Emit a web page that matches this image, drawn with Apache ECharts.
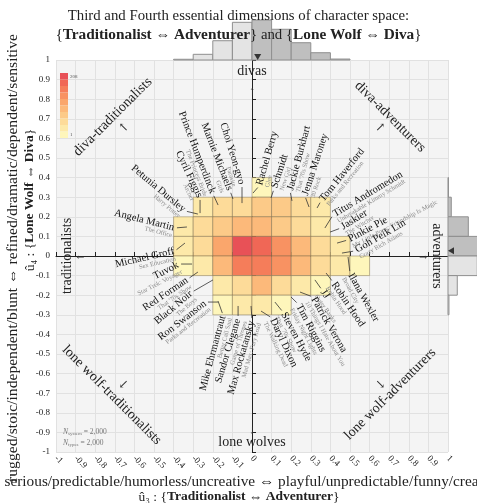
<!DOCTYPE html>
<html>
<head>
<meta charset="UTF-8">
<title>character space</title>
<script src="https://cdn.jsdelivr.net/npm/echarts@6/dist/echarts.min.js"></script>
<style>
html, body { margin: 0; padding: 0; background: #fff; }
#chart { width: 477px; height: 503px; }
</style>
</head>
<body>
<div id="chart"></div>
<script>
// heatmap: 0.1 x 0.1 bins, one row per u4 bin (lower edge), counts left to right
var rowY = [0.3, 0.2, 0.1, 0, -0.1, -0.2, -0.3];
var rowStartX = [0, -0.3, -0.4, -0.4, -0.4, -0.2, -0.2];
var rowCounts = [
    [1],
    [2, 3, 4, 5, 5, 3, 2],
    [2, 4, 8, 12, 12, 7, 4, 2],
    [2, 4, 20, 208, 120, 35, 10, 4, 2],
    [1, 2, 10, 60, 55, 35, 10, 4, 2, 1],
    [2, 4, 9, 4, 2, 1],
    [1, 2, 2, 1]
];
var maxCount = 208;
var binW = 0.1;
var levelColors = ['#fef6bb', '#fde9a9', '#fddb99', '#fcca88', '#fcb97a',
                   '#faa66c', '#f89262', '#f57d5a', '#f06756', '#e85157'];

// marginal histograms
var topBinX = [-0.4, -0.3, -0.2, -0.1, 0, 0.1, 0.2, 0.3, 0.4];
var topCounts = [9, 71, 241, 471, 500, 384, 216, 91, 12];
var rightBinY = [0.3, 0.2, 0.1, 0, -0.1, -0.2, -0.3];
var rightCounts = [6, 41, 254, 500, 366, 116, 12];
var meanX = 0.029, meanY = 0.027;

// character annotations
var charNames = ['Petunia Dursley', 'Cyril Figgis', 'Prince Humperdinck', 'Marnie Michaels', 'Choi Yeon-gyo',
    'Angela Martin', 'Rachel Berry', 'Schmidt', 'Jackie Burkhart', 'Jenna Maroney',
    'Tom Haverford', 'Titus Andromedon', 'Jaskier', 'Pinkie Pie', 'Goh Peik Lin',
    'Ilana Wexler', 'Robin Hood', 'JJ', 'Patrick Verona', 'Tim Riggins',
    'Steven Hyde', 'Daryl Dixon', 'Mike Ehrmantraut', 'Sandor Clegane', 'Max Rockatansky',
    'Michael Groff', 'Tuvok', 'Red Forman', 'Black Noir', 'Ron Swanson'];
var charShows = ['Harry Potter', 'Archer', 'The Princess Bride', 'Girls', 'Parasite',
    'The Office', 'Glee', 'New Girl', "That '70s Show", '30 Rock',
    'Parks and Recreation', 'Unbreakable Kimmy Schmidt', 'The Witcher', 'My Little Pony: Friendship Is Magic', 'Crazy Rich Asians',
    'Broad City', 'Robin Hood', 'Outer Banks', '10 Things I Hate About You', 'Friday Night Lights',
    "That '70s Show", 'The Walking Dead', 'Better Call Saul', 'Game of Thrones', 'Mad Max: Fury Road',
    'Sex Education', 'Star Trek: Voyager', "That '70s Show", 'The Boys', 'Parks and Recreation'];
var charLabelX = [-0.342, -0.265, -0.199, -0.112, -0.051, -0.393, 0.036, 0.112, 0.194, 0.270,
    0.352, 0.413, 0.454, 0.490, 0.526, 0.500, 0.413, 0.357, 0.311, 0.235,
    0.158, 0.102, -0.148, -0.071, 0.0, -0.393, -0.372, -0.327, -0.306, -0.235];
var charLabelY = [0.230, 0.296, 0.316, 0.332, 0.362, 0.143, 0.357, 0.342, 0.332, 0.306,
    0.281, 0.209, 0.143, 0.082, 0.026, -0.087, -0.133, -0.173, -0.209, -0.245,
    -0.286, -0.316, -0.301, -0.316, -0.327, 0.026, -0.041, -0.117, -0.184, -0.235];
var charPointX = [-0.276, -0.265, -0.173, -0.097, -0.051, -0.332, 0.005, 0.097, 0.204, 0.291,
    0.332, 0.372, 0.398, 0.434, 0.459, 0.490, 0.378, 0.321, 0.245, 0.199,
    0.117, 0.046, -0.173, -0.071, -0.005, -0.342, -0.306, -0.276, -0.199, -0.173];
var charPointY = [0.214, 0.219, 0.260, 0.291, 0.270, 0.148, 0.321, 0.296, 0.281, 0.250,
    0.245, 0.143, 0.122, 0.066, 0.015, -0.005, -0.087, -0.122, -0.184, -0.209,
    -0.235, -0.281, -0.230, -0.255, -0.255, 0.066, -0.041, -0.082, -0.122, -0.235];
var charRotate = [-40, -65, -69, -69, -73, -14, 74, 72, 75, 72,
    51, 31, 32, 28, 30, -61, -56, -55, -60, -62,
    -62, -65, 75, 73, 74, 13, 27, 34, 40, 38];
var charAlign = ['right', 'right', 'right', 'right', 'right', 'right', 'left', 'left', 'left', 'left',
    'left', 'left', 'left', 'left', 'left', 'left', 'left', 'left', 'left', 'left',
    'left', 'left', 'right', 'right', 'right', 'right', 'right', 'right', 'right', 'right'];

// region names round the plot
var regionText = ['divas', 'diva-adventurers', 'adventurers', 'lone wolf-adventurers',
    'lone wolves', 'lone wolf-traditionalists', 'traditionalists', 'diva-traditionalists'];
var regionX = [0, 0.705, 0.94, 0.705, 0, -0.715, -0.94, -0.71];
var regionY = [0.94, 0.71, 0, -0.705, -0.95, -0.71, 0, 0.71];
var regionRotate = [0, -45, -90, 45, 0, -45, 90, 45];
var arrowGlyph = ['↑', '↗', '→', '↘', '↓', '↙', '←', '↖'];
var arrowX = [0, 0.655, 0.875, 0.655, 0, -0.655, -0.875, -0.655];
var arrowY = [0.835, 0.655, 0, -0.655, -0.89, -0.655, 0, 0.655];

var serif = "'Liberation Serif', 'DejaVu Serif', serif";

var cellData = [];
rowY.forEach(function (y, r) {
    rowCounts[r].forEach(function (c, i) {
        var x = +(rowStartX[r] + i * binW).toFixed(2);
        cellData.push([x, y, c, Math.log10(c)]);
    });
});

var logMax = Math.log10(maxCount);
var pieces = levelColors.map(function (col, k) {
    var p = {gte: logMax * k / 10, color: col};
    if (k < 9) { p.lt = logMax * (k + 1) / 10; } else { p.lte = logMax + 1e-9; }
    return p;
});

var chart = echarts.init(document.getElementById('chart'));

var option = {
    animation: false,
    backgroundColor: '#fff',
    title: {
        left: 'center',
        top: 2,
        text: 'Third and Fourth essential dimensions of character space:\n{{b|Traditionalist} ⇔ {b|Adventurer}} and {{b|Lone Wolf} ⇔ {b|Diva}}',
        textStyle: {
            fontFamily: serif, fontSize: 14.8, fontWeight: 'normal', color: '#222', lineHeight: 19,
            rich: {b: {fontFamily: serif, fontSize: 15.3, fontWeight: 'bold', color: '#222'}}
        }
    },
    grid: [
        {left: 56, top: 60, width: 392, height: 392, show: true, backgroundColor: '#f4f4f4',
         borderWidth: 0, containLabel: false, outerBoundsMode: 'none'},
        {left: 56, top: 20, width: 392, height: 40, containLabel: false, outerBoundsMode: 'none'},
        {left: 448, top: 60, width: 40, height: 392, containLabel: false, outerBoundsMode: 'none'}
    ],
    xAxis: [
        {
            gridIndex: 0, type: 'value', min: -1, max: 1, interval: 0.1,
            axisLine: {lineStyle: {color: '#222', width: 1}},
            axisTick: {inside: true, length: 4, lineStyle: {color: '#222'}},
            axisLabel: {rotate: -45, fontSize: 9, fontFamily: serif, color: '#222', margin: 5,
                formatter: function (v) { return String(+v.toFixed(1)); }},
            splitLine: {lineStyle: {color: '#e1e1e1', width: 1}}
        },
        {gridIndex: 1, type: 'value', min: -1, max: 1, show: false},
        {gridIndex: 2, type: 'value', min: 0, max: 500, show: false}
    ],
    yAxis: [
        {
            gridIndex: 0, type: 'value', min: -1, max: 1, interval: 0.1,
            axisLine: {lineStyle: {color: '#222', width: 1}},
            axisTick: {inside: true, length: 4, lineStyle: {color: '#222'}},
            axisLabel: {fontSize: 9, fontFamily: serif, color: '#222', margin: 6,
                formatter: function (v) { return String(+v.toFixed(1)); }},
            splitLine: {lineStyle: {color: '#e1e1e1', width: 1}}
        },
        {gridIndex: 1, type: 'value', min: 0, max: 500, show: false},
        {gridIndex: 2, type: 'value', min: -1, max: 1, show: false}
    ],
    visualMap: {
        type: 'piecewise',
        seriesIndex: 0,
        dimension: 3,
        pieces: pieces,
        orient: 'vertical',
        left: 60,
        top: 73,
        padding: 0,
        itemWidth: 8,
        itemHeight: 6.5,
        itemGap: 0,
        itemSymbol: 'rect',
        textGap: 2,
        selectedMode: false,
        hoverLink: false,
        textStyle: {fontSize: 5, fontFamily: serif, color: '#555'},
        formatter: function (v, v2) {
            if (v2 >= logMax - 1e-6) { return String(maxCount); }
            if (v <= 1e-9) { return '1'; }
            return '';
        }
    },
    graphic: [
        {type: 'text', x: 253, y: 482, z: 10,
         style: {text: 'serious/predictable/humorless/uncreative ⇔ playful/unpredictable/funny/creative',
                 font: '15.3px ' + serif, fill: '#222', align: 'center', verticalAlign: 'middle'}},
        {type: 'text', x: 239, y: 497, z: 10,
         style: {text: 'û₃ : {{b|Traditionalist} ⇔ {b|Adventurer}}',
                 font: '13.5px ' + serif, fill: '#222', align: 'center', verticalAlign: 'middle',
                 rich: {b: {fontFamily: serif, fontSize: 13.5, fontWeight: 'bold', fill: '#222'}}}},
        {type: 'text', x: 13, y: 258, rotation: Math.PI / 2, z: 10,
         style: {text: 'rugged/stoic/independent/blunt ⇔ refined/dramatic/dependent/sensitive',
                 font: '15.6px ' + serif, fill: '#222', align: 'center', verticalAlign: 'middle'}},
        {type: 'text', x: 30, y: 200, rotation: Math.PI / 2, z: 10,
         style: {text: 'û₄ : {{b|Lone Wolf} ⇔ {b|Diva}}',
                 font: '13.5px ' + serif, fill: '#222', align: 'center', verticalAlign: 'middle',
                 rich: {b: {fontFamily: serif, fontSize: 13.5, fontWeight: 'bold', fill: '#222'}}}},
        {type: 'text', x: 63, y: 432, z: 10,
         style: {text: '{i|N}{s|system} = 2,000', font: '7.5px ' + serif, fill: '#777', verticalAlign: 'middle',
                 rich: {i: {fontFamily: serif, fontSize: 7.5, fontStyle: 'italic', fill: '#777'},
                        s: {fontFamily: serif, fontSize: 5, fill: '#777', verticalAlign: 'bottom'}}}},
        {type: 'text', x: 63, y: 443, z: 10,
         style: {text: '{i|N}{s|types} = 2,000', font: '7.5px ' + serif, fill: '#777', verticalAlign: 'middle',
                 rich: {i: {fontFamily: serif, fontSize: 7.5, fontStyle: 'italic', fill: '#777'},
                        s: {fontFamily: serif, fontSize: 5, fill: '#777', verticalAlign: 'bottom'}}}}
    ],
    series: [
        {
            name: 'cells',
            type: 'custom',
            xAxisIndex: 0, yAxisIndex: 0,
            data: cellData,
            encode: {x: 0, y: 1},
            z: 2,
            renderItem: function (params, api) {
                var x0 = api.value(0), y0 = api.value(1);
                var p0 = api.coord([x0, y0 + binW]);
                var p1 = api.coord([x0 + binW, y0]);
                return {
                    type: 'rect',
                    shape: {x: p0[0], y: p0[1], width: p1[0] - p0[0], height: p1[1] - p0[1]},
                    style: {fill: api.visual('color'), stroke: 'rgba(120,105,70,0.45)', lineWidth: 1}
                };
            }
        },
        {
            name: 'top histogram',
            type: 'custom',
            xAxisIndex: 1, yAxisIndex: 1,
            data: topBinX.map(function (x, i) { return [x, topCounts[i]]; }),
            encode: {x: 0, y: 1},
            renderItem: function (params, api) {
                var x0 = api.value(0);
                var p0 = api.coord([x0, api.value(1)]);
                var p1 = api.coord([x0 + binW, 0]);
                return {
                    type: 'rect',
                    shape: {x: p0[0], y: p0[1], width: p1[0] - p0[0], height: p1[1] - p0[1]},
                    style: {fill: x0 < 0 ? '#e4e4e4' : '#bfbfbf', stroke: '#8f8f8f', lineWidth: 1}
                };
            }
        },
        {
            name: 'right histogram',
            type: 'custom',
            xAxisIndex: 2, yAxisIndex: 2,
            data: rightBinY.map(function (y, i) { return [rightCounts[i], y]; }),
            encode: {x: 0, y: 1},
            renderItem: function (params, api) {
                var y0 = api.value(1);
                var p0 = api.coord([0, y0 + binW]);
                var p1 = api.coord([api.value(0), y0]);
                return {
                    type: 'rect',
                    shape: {x: p0[0], y: p0[1], width: p1[0] - p0[0], height: p1[1] - p0[1]},
                    style: {fill: y0 < 0 ? '#e4e4e4' : '#bfbfbf', stroke: '#8f8f8f', lineWidth: 1}
                };
            }
        },
        {
            name: 'mean u3',
            type: 'scatter',
            xAxisIndex: 1, yAxisIndex: 1,
            data: [[meanX, 0]],
            symbol: 'triangle', symbolRotate: 180, symbolSize: [7, 6], symbolOffset: [0, -3],
            itemStyle: {color: '#111'}, z: 5
        },
        {
            name: 'mean u4',
            type: 'scatter',
            xAxisIndex: 2, yAxisIndex: 2,
            data: [[0, meanY]],
            symbol: 'triangle', symbolRotate: 90, symbolSize: [7, 6], symbolOffset: [3, 0],
            itemStyle: {color: '#111'}, z: 5
        },
        {
            name: 'characters',
            type: 'custom',
            xAxisIndex: 0, yAxisIndex: 0,
            data: charNames.map(function (n, i) { return [charLabelX[i], charLabelY[i]]; }),
            encode: {x: 0, y: 1},
            z: 4,
            renderItem: function (params, api) {
                var i = params.dataIndex;
                var a = api.coord([charLabelX[i], charLabelY[i]]);
                var c = api.coord([charPointX[i], charPointY[i]]);
                var dx = a[0] - c[0], dy = a[1] - c[1];
                var len = Math.sqrt(dx * dx + dy * dy) || 1;
                var cut = Math.min(2, len * 0.3);
                var align = charAlign[i];
                var off = align === 'right' ? -1 : 1;
                return {
                    type: 'group',
                    children: [
                        {type: 'line',
                         shape: {x1: c[0], y1: c[1], x2: a[0] - dx / len * cut, y2: a[1] - dy / len * cut},
                         style: {stroke: '#333', lineWidth: 0.8}},
                        {type: 'group', x: a[0], y: a[1], rotation: charRotate[i] * Math.PI / 180,
                         children: [
                             {type: 'text', x: off, y: 0,
                              style: {text: charNames[i], font: '10.5px ' + serif, fill: '#111',
                                      align: align, verticalAlign: 'middle'}},
                             {type: 'text', x: off, y: 8,
                              style: {text: charShows[i], font: '6.5px ' + serif, fill: '#8a8a8a',
                                      align: align, verticalAlign: 'middle'}}
                         ]}
                    ]
                };
            }
        },
        {
            name: 'regions',
            type: 'custom',
            xAxisIndex: 0, yAxisIndex: 0,
            data: regionText.map(function (t, i) { return [regionX[i], regionY[i]]; }),
            encode: {x: 0, y: 1},
            z: 4,
            renderItem: function (params, api) {
                var i = params.dataIndex;
                var p = api.coord([regionX[i], regionY[i]]);
                var q = api.coord([arrowX[i], arrowY[i]]);
                return {
                    type: 'group',
                    children: [
                        {type: 'text', x: p[0], y: p[1], rotation: regionRotate[i] * Math.PI / 180,
                         style: {text: regionText[i], font: '14px ' + serif, fill: '#222',
                                 align: 'center', verticalAlign: 'middle'}},
                        {type: 'text', x: q[0], y: q[1],
                         style: {text: arrowGlyph[i], font: '12px ' + serif, fill: '#333',
                                 align: 'center', verticalAlign: 'middle'}}
                    ]
                };
            }
        }
    ]
};

chart.setOption(option);
</script>
</body>
</html>
